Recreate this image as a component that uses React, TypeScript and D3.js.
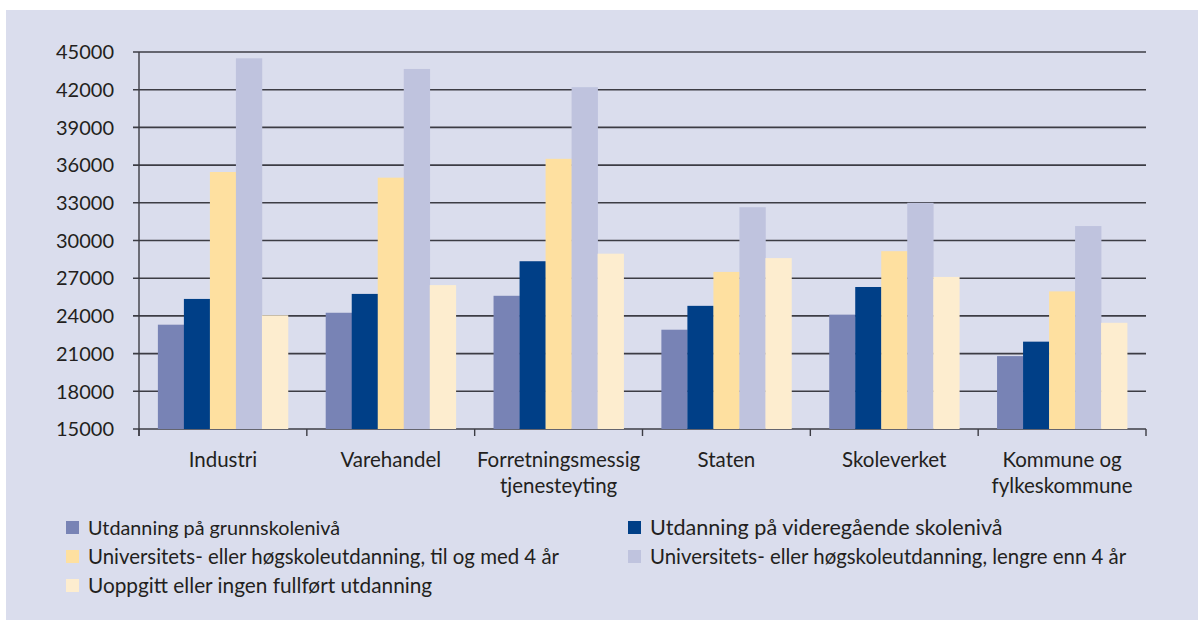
import React, { useRef, useEffect } from 'react';
import * as d3 from 'd3';

const categories = [
  ['Industri'],
  ['Varehandel'],
  ['Forretningsmessig', 'tjenesteyting'],
  ['Staten'],
  ['Skoleverket'],
  ['Kommune og', 'fylkeskommune'],
];

const seriesNames = [
  'Utdanning på grunnskolenivå',
  'Utdanning på videregående skolenivå',
  'Universitets- eller høgskoleutdanning, til og med 4 år',
  'Universitets- eller høgskoleutdanning, lengre enn 4 år',
  'Uoppgitt eller ingen fullført utdanning',
];

const grunnskole = [23300, 24250, 25600, 22900, 24100, 20800];
const videregaende = [25350, 25750, 28350, 24800, 26300, 21950];
const univTil4 = [35450, 35000, 36500, 27500, 29150, 25950];
const univOver4 = [44500, 43650, 42200, 32650, 33000, 31150];
const uoppgitt = [24050, 26450, 28950, 28600, 27100, 23450];

const yTicks = [15000, 18000, 21000, 24000, 27000, 30000, 33000, 36000, 39000, 42000, 45000];

const colors = ['#7883b5', '#003f87', '#fee0a0', '#bfc3de', '#fdedcf'];

const W = 1198;
const H = 620;

const App = () => {
  const svgRef = useRef<SVGSVGElement>(null);

  useEffect(() => {
    const svg = d3.select(svgRef.current);
    svg.selectAll('*').remove();

    const allSeries = [grunnskole, videregaende, univTil4, univOver4, uoppgitt];
    const font = 'Lato, "Open Sans", sans-serif';
    const textColor = '#231f20';

    // background panel
    svg.append('rect')
      .attr('x', 6).attr('y', 10)
      .attr('width', W - 6).attr('height', H - 10)
      .attr('fill', '#dadded');

    const left = 139, right = 1146, top = 52, bottom = 429;

    const x0 = d3.scaleBand<number>()
      .domain(d3.range(categories.length))
      .range([left, right])
      .paddingInner(0.225)
      .paddingOuter(0.1125);

    const x1 = d3.scaleBand<number>()
      .domain(d3.range(allSeries.length))
      .range([0, x0.bandwidth()]);

    const y = d3.scaleLinear().domain([15000, 45000]).range([bottom, top]);

    // gridlines
    svg.append('g')
      .selectAll('line')
      .data(yTicks)
      .enter()
      .append('line')
      .attr('x1', left - 6)
      .attr('x2', right)
      .attr('y1', d => y(d))
      .attr('y2', d => y(d))
      .attr('stroke', '#3c3c44')
      .attr('stroke-width', 1.6);

    // bars
    const groups = svg.append('g')
      .selectAll('g')
      .data(categories.map((_, i) => i))
      .enter()
      .append('g')
      .attr('transform', i => `translate(${x0(i)},0)`);

    groups.selectAll('rect')
      .data(i => allSeries.map((s, j) => ({ j, v: s[i] })))
      .enter()
      .append('rect')
      .attr('x', d => x1(d.j)!)
      .attr('width', x1.bandwidth() + 0.3)
      .attr('y', d => y(d.v))
      .attr('height', d => bottom - y(d.v))
      .attr('fill', d => colors[d.j]);

    // y axis line
    svg.append('line')
      .attr('x1', left).attr('x2', left)
      .attr('y1', top).attr('y2', bottom + 7)
      .attr('stroke', '#3c3c44').attr('stroke-width', 1.4);

    // x ticks between categories
    const xTickPos = d3.range(categories.length + 1).map(i => left + i * x0.step());
    svg.append('g')
      .selectAll('line')
      .data(xTickPos)
      .enter()
      .append('line')
      .attr('x1', d => d).attr('x2', d => d)
      .attr('y1', bottom).attr('y2', bottom + 7)
      .attr('stroke', '#3c3c44').attr('stroke-width', 1.4);

    // y tick labels
    svg.append('g')
      .selectAll('text')
      .data(yTicks)
      .enter()
      .append('text')
      .attr('x', 114)
      .attr('y', d => y(d))
      .attr('dy', '0.36em')
      .attr('text-anchor', 'end')
      .attr('font-family', font)
      .attr('font-size', 20)
      .attr('fill', textColor)
      .text(d => d);

    // category labels
    const catLabels = svg.append('g')
      .selectAll('text')
      .data(categories)
      .enter()
      .append('text')
      .attr('x', (_, i) => x0(i)! + x0.bandwidth() / 2)
      .attr('y', 467)
      .attr('text-anchor', 'middle')
      .attr('font-family', font)
      .attr('font-size', 20.5)
      .attr('fill', textColor);

    catLabels.selectAll('tspan')
      .data(d => d)
      .enter()
      .append('tspan')
      .attr('x', function () {
        return (this as SVGTSpanElement).parentElement!.getAttribute('x');
      })
      .attr('dy', (_, k) => (k === 0 ? 0 : 26))
      .text(d => d);

    // legend
    const legendPos = [
      { x: 66, y: 535 },
      { x: 628, y: 535 },
      { x: 66, y: 564 },
      { x: 628, y: 564 },
      { x: 66, y: 593 },
    ];
    const legendSize = [19.8, 21.6, 20.4, 20.4, 20.8];
    const legend = svg.append('g')
      .selectAll('g')
      .data(seriesNames)
      .enter()
      .append('g')
      .attr('transform', (_, i) => `translate(${legendPos[i].x},${legendPos[i].y})`);

    legend.append('rect')
      .attr('x', 0).attr('y', -14)
      .attr('width', 13).attr('height', 13)
      .attr('fill', (_, i) => colors[i]);

    legend.append('text')
      .attr('x', 22)
      .attr('y', 0)
      .attr('font-family', font)
      .attr('font-size', (_, i) => legendSize[i])
      .attr('fill', textColor)
      .text(d => d);
  }, []);

  return (
    <div style={{ width: W, height: H, position: 'absolute', left: 0, top: 0, background: '#fff' }}>
      <svg ref={svgRef} width={W} height={H}></svg>
    </div>
  );
};

export default App;
